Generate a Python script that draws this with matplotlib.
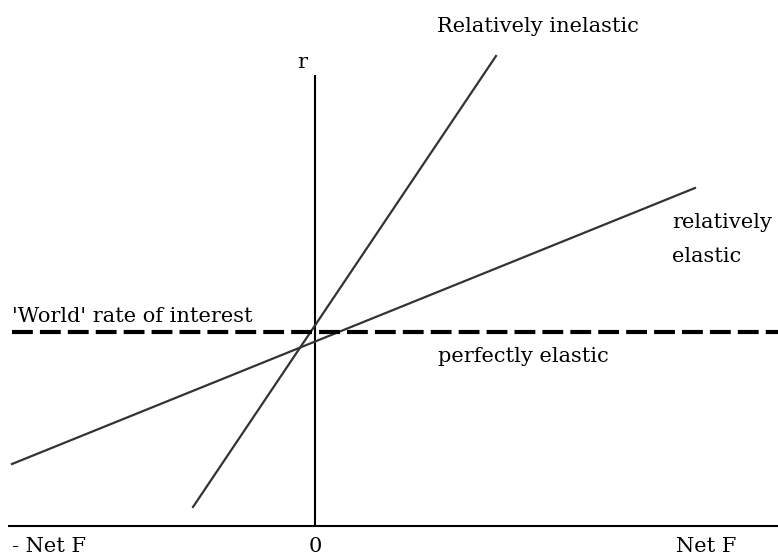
import matplotlib
matplotlib.use("Agg")
import matplotlib.pyplot as plt

# Data (chart coordinates: x = net flow, y = interest rate, screen-like units)
inelastic_x = [193, 496]
inelastic_y = [507, 56]
elastic_x = [12, 695]
elastic_y = [464, 188]
world_rate = 332
world_x = [12, 778]
axis_x = [8, 778]
axis_y0 = 526
vaxis_x = 315
vaxis_y = [75, 526]

x_tick_labels = ["- Net F", "0", "Net F"]

fig = plt.figure(figsize=(7.78, 5.54), dpi=100)
ax = fig.add_axes([0, 0, 1, 1])
ax.set_xlim(0, 778)
ax.set_ylim(554, 0)
ax.axis("off")

font = dict(family="DejaVu Serif", fontsize=15, color="black")

# axes
ax.plot(axis_x, [axis_y0, axis_y0], color="black", lw=1.5, solid_capstyle="butt")
ax.plot([vaxis_x, vaxis_x], vaxis_y, color="black", lw=1.5, solid_capstyle="butt")

# curves
ax.plot(inelastic_x, inelastic_y, color="#333333", lw=1.6)
ax.plot(elastic_x, elastic_y, color="#333333", lw=1.6)
ax.plot(world_x, [world_rate, world_rate], color="black", lw=3, linestyle=(0, (5.0, 1.7)),
        dash_capstyle="butt")

# labels
ax.text(12, 546, x_tick_labels[0], ha="left", va="center", **font)
ax.text(vaxis_x, 546, x_tick_labels[1], ha="center", va="center", **font)
ax.text(676, 546, x_tick_labels[2], ha="left", va="center", **font)
ax.text(302, 63, "r", ha="center", va="center", **font)
ax.text(437, 26, "Relatively inelastic", ha="left", va="center", **font)
ax.text(672, 222, "relatively", ha="left", va="center", **font)
ax.text(672, 256, "elastic", ha="left", va="center", **font)
ax.text(12, 317, "'World' rate of interest", ha="left", va="center", **font)
ax.text(438, 356, "perfectly elastic", ha="left", va="center", **font)

fig.savefig("out.png", dpi=100)
